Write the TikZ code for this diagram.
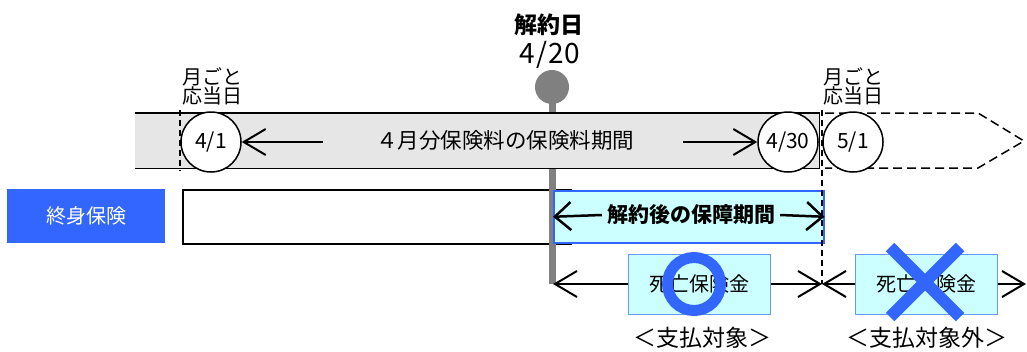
\documentclass[tikz,border=0pt]{standalone}
\usepackage{fontspec}
\newfontfamily\jp{Noto Sans CJK JP}
\usetikzlibrary{arrows.meta}
\definecolor{bandgray}{HTML}{E6E6E6}
\definecolor{myblue}{HTML}{3366FF}
\definecolor{lcyan}{HTML}{CCFFFF}
\definecolor{lblue}{HTML}{6699FF}
\definecolor{pingray}{HTML}{808080}
\begin{document}
\begin{tikzpicture}[x=1pt,y=-1pt,
  fs/.style={font=\jp\fontsize{#1}{#1}\selectfont},
  fsb/.style={font=\jp\bfseries\fontsize{#1}{#1}\selectfont},
  datec/.style={circle, draw, line width=1.5pt, fill=white, minimum size=60pt, inner sep=0pt, fs=21},
  lbl/.style={align=center, inner sep=0pt, font=\jp\fontsize{20}{19}\selectfont},
  arr/.style={line width=2pt, -{Straight Barb[length=22pt,width=26pt]}},
  arrb/.style={line width=2pt, {Straight Barb[length=22pt,width=26pt]}-{Straight Barb[length=22pt,width=26pt]}},
  arrc/.style={line width=2.5pt, -{Straight Barb[length=16pt,width=28pt]}},
  dbox/.style={fill=lcyan, draw=lblue, line width=1pt, minimum width=142pt, minimum height=60pt, inner sep=0pt, fs=20},
  vdash/.style={line width=1.2pt, dash pattern=on 6pt off 4pt},
]
\useasboundingbox (0,0) rectangle (1027,351);

% white plan rectangle
\node[draw, line width=1.5pt, fill=white, minimum width=388pt, minimum height=54pt, anchor=north west, inner sep=0pt] (plan) at (182,189) {};

% cancellation pin rod
\coordinate (rodtop) at (552,87);
\coordinate (rodbot) at (552,284);
\draw[pingray, line width=7pt] (rodtop) -- (rodbot);
\node[circle, fill=pingray, minimum size=34pt, inner sep=0pt] (pin) at (552,87) {};

% premium period band
\node[fill=bandgray, minimum width=684pt, minimum height=55pt, anchor=north west, inner sep=0pt] (band) at (135,113) {};
\draw[line width=1.5pt] (band.north west) -- (band.north east) -- (band.south east) -- (band.south west);

% next month dashed pentagon
\coordinate (p1) at (825,113);
\coordinate (p2) at (978,113);
\coordinate (p3) at (1024,141);
\coordinate (p4) at (978,168);
\coordinate (p5) at (825,168);
\draw[line width=1.5pt, dash pattern=on 9pt off 5pt] (p1) -- (p2) -- (p3) -- (p4) -- (p5);

% vertical dashed lines
\coordinate (d1t) at (180,110);
\coordinate (d1b) at (180,171);
\draw[vdash] (d1t) -- (d1b);

% date circles
\node[datec] (c41) at (211,142) {4/1};
\node[datec] (c430) at (788,142) {4/30};
\node[datec] (c51) at (853,142) {5/1};

% labels above circles
\node[lbl] (ot1) at (212,86) {月ごと\\応当日};
\node[lbl] (ot2) at (853,86) {月ごと\\応当日};

% period text and arrows
\node[fs=21.5, inner sep=0pt] (period) at (505,140) {４月分保険料の保険料期間};
\coordinate (a1s) at (323,142);
\coordinate (a2s) at (683,142);
\draw[arr] (a1s) -- (c41.east);
\draw[arr] (a2s) -- (c430.west);

% cancellation date
\node[fsb=23, inner sep=0pt] (kd) at (549,25) {解約日};
\node[fs=28, inner sep=0pt] (kdate) at (550,55) {4\kern1pt/\kern1pt2\kern1pt0};

% whole life insurance label
\node[fill=myblue, minimum width=158pt, minimum height=54pt, inner sep=0pt, text=white, fs=20] (sk) at (86,216) {終身保険};

% coverage after cancellation
\node[fill=lcyan, draw=myblue, line width=1.5pt, minimum width=270pt, minimum height=52pt, anchor=north west, inner sep=0pt] (hp) at (553,190) {};
\node[fsb=21, inner sep=5pt] (hpt) at (691,215) {解約後の保障期間};
\draw[arrc] (hpt.west) -- (hp.west);
\draw[arrc] (hpt.east) -- (hp.east);

\coordinate (d2t) at (822,110);
\coordinate (d2b) at (822,284);
\draw[vdash] (d2t) -- (d2b);

% payout arrows
\coordinate (b0) at (553,284);
\coordinate (b1) at (822,284);
\coordinate (b2) at (1026,284);
\draw[arrb] (b0) -- (b1);
\draw[arrb] (b1) -- (b2);

% death benefit boxes
\node[dbox] (db1) at (699,284) {死亡保険金};
\node[dbox] (db2) at (926,284) {死亡保険金};

% circle mark and cross mark
\coordinate (ringc) at (694,284);
\draw[myblue, line width=11pt] (ringc) circle (26.5);
\coordinate (x1) at (890,247);
\coordinate (x2) at (960,317);
\coordinate (x3) at (960,247);
\coordinate (x4) at (890,317);
\draw[myblue, line width=12pt] (x1) -- (x2);
\draw[myblue, line width=12pt] (x3) -- (x4);

% payout labels
\node[fs=23, inner sep=0pt] (lab1) at (702,338) {＜支払対象＞};
\node[fs=23, inner sep=0pt] (lab2) at (927,338) {＜支払対象外＞};
\end{tikzpicture}
\end{document}
